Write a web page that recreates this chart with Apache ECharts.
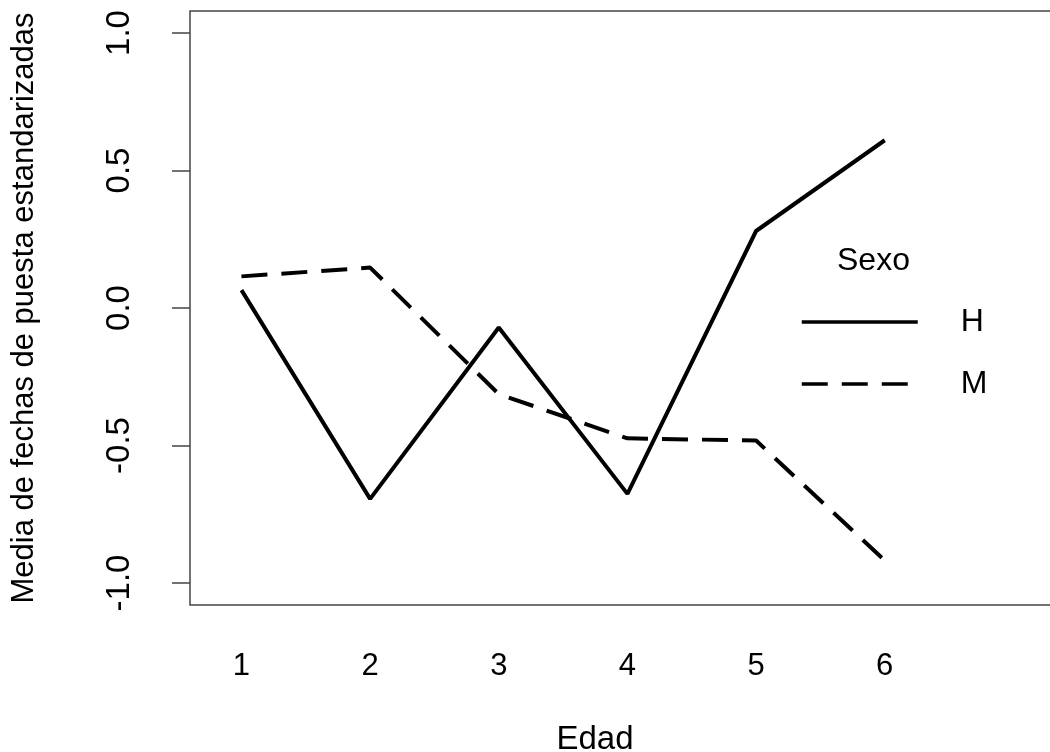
<!DOCTYPE html>
<html>
<head>
<meta charset="utf-8">
<script src="https://cdn.jsdelivr.net/npm/echarts@6/dist/echarts.min.js"></script>
<style>
  html, body { margin: 0; padding: 0; background: #fff; }
  #main { width: 1050px; height: 752px; }
</style>
</head>
<body>
<div id="main"></div>
<script>
// edades (eje x) y medias por sexo
var edad = [1, 2, 3, 4, 5, 6];
var mediaH = [0.065, -0.694, -0.071, -0.676, 0.28, 0.61];
var mediaM = [0.115, 0.147, -0.313, -0.474, -0.482, -0.918];
var yTicks = [-1.0, -0.5, 0.0, 0.5, 1.0];

function pares(vals) {
  return edad.map(function (e, i) { return [e, vals[i]]; });
}

var fuente = '"Liberation Sans", Arial, sans-serif';

var myChart = echarts.init(document.getElementById('main'));
myChart.setOption({
  backgroundColor: '#fff',
  animation: false,
  title: {
    text: 'Sexo',
    left: 832,
    top: 240,
    textStyle: { fontFamily: fuente, fontSize: 32, fontWeight: 'normal', color: '#000' }
  },
  legend: {
    orient: 'vertical',
    left: 795,
    top: 301,
    itemWidth: 116,
    itemHeight: 20,
    itemGap: 30,
    data: ['H', 'M'],
    itemStyle: { opacity: 0 },
    lineStyle: { width: 3.5 },
    textStyle: { fontFamily: fuente, fontSize: 32, lineHeight: 20, color: '#000', padding: [0, 0, 0, 38] }
  },
  grid: {
    left: 190,
    top: 11,
    width: 880,
    height: 594,
    show: true,
    borderColor: '#444',
    borderWidth: 1.5,
    outerBoundsMode: 'none',
    containLabel: false
  },
  xAxis: {
    type: 'value',
    min: 0.6,
    max: 7.44,
    name: 'Edad',
    nameLocation: 'middle',
    nameGap: 118,
    nameTextStyle: { fontFamily: fuente, fontSize: 33, color: '#000', padding: [0, 70, 0, 0] },
    axisLine: { show: false },
    axisTick: { show: false },
    splitLine: { show: false },
    axisLabel: {
      customValues: edad,
      margin: 46,
      fontFamily: fuente,
      fontSize: 31,
      color: '#000'
    }
  },
  yAxis: {
    type: 'value',
    min: -1.08,
    max: 1.08,
    name: 'Media de fechas de puesta estandarizadas',
    nameLocation: 'middle',
    nameGap: 150,
    nameTextStyle: { fontFamily: fuente, fontSize: 31, color: '#000' },
    axisLine: { show: false },
    splitLine: { show: false },
    axisTick: {
      show: true,
      customValues: yTicks,
      length: 18,
      lineStyle: { color: '#444', width: 1.5 }
    },
    axisLabel: {
      customValues: yTicks,
      rotate: 90,
      margin: 54,
      fontFamily: fuente,
      fontSize: 33,
      color: '#000',
      formatter: function (v) { return v.toFixed(1); }
    }
  },
  series: [
    {
      name: 'H',
      type: 'line',
      symbol: 'none',
      data: pares(mediaH),
      lineStyle: { color: '#000', width: 4, type: 'solid' },
      itemStyle: { color: '#000' }
    },
    {
      name: 'M',
      type: 'line',
      symbol: 'none',
      data: pares(mediaM),
      lineStyle: { color: '#000', width: 4, type: [26, 14] },
      itemStyle: { color: '#000' }
    }
  ]
});
</script>
</body>
</html>
